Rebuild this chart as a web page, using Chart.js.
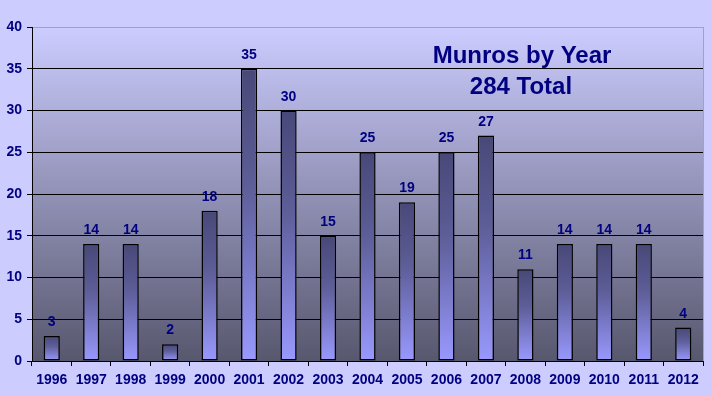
<!DOCTYPE html>
<html>
<head>
<meta charset="utf-8">
<script src="https://cdn.jsdelivr.net/npm/chart.js@4/dist/chart.umd.min.js"></script>
<style>
  html, body { margin: 0; padding: 0; background: #ccccff; }
  #wrap { width: 712px; height: 396px; }
</style>
</head>
<body>
<div id="wrap"><canvas id="munrosChart" width="712" height="396"></canvas></div>
<script>
// Munros climbed per year
const years = ['1996', '1997', '1998', '1999', '2000', '2001', '2002', '2003', '2004',
               '2005', '2006', '2007', '2008', '2009', '2010', '2011', '2012'];
const munros = [3, 14, 14, 2, 18, 35, 30, 15, 25, 19, 25, 27, 11, 14, 14, 14, 4];
const titleLines = ['Munros by Year', '284 Total'];

const navy = '#000080';
const fontFamily = "'Liberation Sans', Arial, sans-serif";

// plot background gradient + border, title text
const plotBackground = {
    id: 'plotBackground',
    beforeDraw(chart) {
        const { ctx, chartArea: a } = chart;
        const g = ctx.createLinearGradient(0, a.top, 0, a.bottom);
        g.addColorStop(0, '#ccccff');
        g.addColorStop(1, '#57576e');
        ctx.save();
        ctx.fillStyle = g;
        ctx.fillRect(a.left, a.top, a.right - a.left, a.bottom - a.top);
        ctx.restore();
    },
    afterDraw(chart) {
        const { ctx, chartArea: a } = chart;
        ctx.save();
        ctx.strokeStyle = '#9999ff';
        ctx.lineWidth = 1;
        ctx.beginPath();
        ctx.moveTo(a.right + 0.5, a.top);
        ctx.lineTo(a.right + 0.5, a.bottom);
        ctx.stroke();
        ctx.fillStyle = navy;
        ctx.font = 'bold 24px ' + fontFamily;
        ctx.textAlign = 'center';
        ctx.textBaseline = 'alphabetic';
        ctx.fillText(titleLines[0], 522, 63);
        ctx.fillText(titleLines[1], 521, 94);
        ctx.restore();
    }
};

// value labels above each bar
const barLabels = {
    id: 'barLabels',
    afterDatasetsDraw(chart) {
        const { ctx } = chart;
        const meta = chart.getDatasetMeta(0);
        ctx.save();
        ctx.fillStyle = navy;
        ctx.font = 'bold 14px ' + fontFamily;
        ctx.textAlign = 'center';
        ctx.textBaseline = 'alphabetic';
        meta.data.forEach((bar, i) => {
            ctx.fillText(String(munros[i]), bar.x, bar.y - 10);
        });
        ctx.restore();
    }
};

new Chart(document.getElementById('munrosChart'), {
    type: 'bar',
    data: {
        labels: years,
        datasets: [{
            data: munros,
            backgroundColor: function(context) {
                const chart = context.chart;
                if (!chart.chartArea) return '#9999ff';
                const y = chart.scales.y;
                const top = y.getPixelForValue(context.raw);
                const bottom = y.getPixelForValue(0);
                const g = chart.ctx.createLinearGradient(0, top, 0, bottom);
                g.addColorStop(0, '#484878');
                g.addColorStop(0.4, '#5d5d98');
                g.addColorStop(1, '#9999ff');
                return g;
            },
            borderColor: '#000000',
            borderWidth: 1.5,
            borderSkipped: false,
            barPercentage: 0.41,
            categoryPercentage: 1.0
        }]
    },
    options: {
        responsive: false,
        animation: false,
        devicePixelRatio: 1,
        layout: { padding: { top: 27, right: 9, left: 0, bottom: 0 } },
        plugins: {
            legend: { display: false },
            tooltip: { enabled: false }
        },
        scales: {
            x: {
                grid: {
                    offset: true,
                    drawOnChartArea: false,
                    drawTicks: true,
                    tickLength: 5,
                    color: '#000000'
                },
                border: { color: '#000000', width: 1 },
                ticks: {
                    color: navy,
                    padding: 6,
                    maxRotation: 0,
                    autoSkip: false,
                    font: { family: fontFamily, size: 14, weight: 'bold' }
                },
                afterFit(scale) { scale.height = 35; }
            },
            y: {
                min: 0,
                max: 40,
                ticks: {
                    stepSize: 5,
                    color: navy,
                    padding: 5,
                    font: { family: fontFamily, size: 14, weight: 'bold' }
                },
                grid: {
                    color: (c) => (c.tick && c.tick.value === 40) ? '#9999ff' : '#000000',
                    tickColor: '#000000',
                    tickLength: 5,
                    lineWidth: 1
                },
                border: { color: '#000000', width: 1 },
                afterFit(scale) { scale.width = 32; }
            }
        }
    },
    plugins: [plotBackground, barLabels]
});
</script>
</body>
</html>
